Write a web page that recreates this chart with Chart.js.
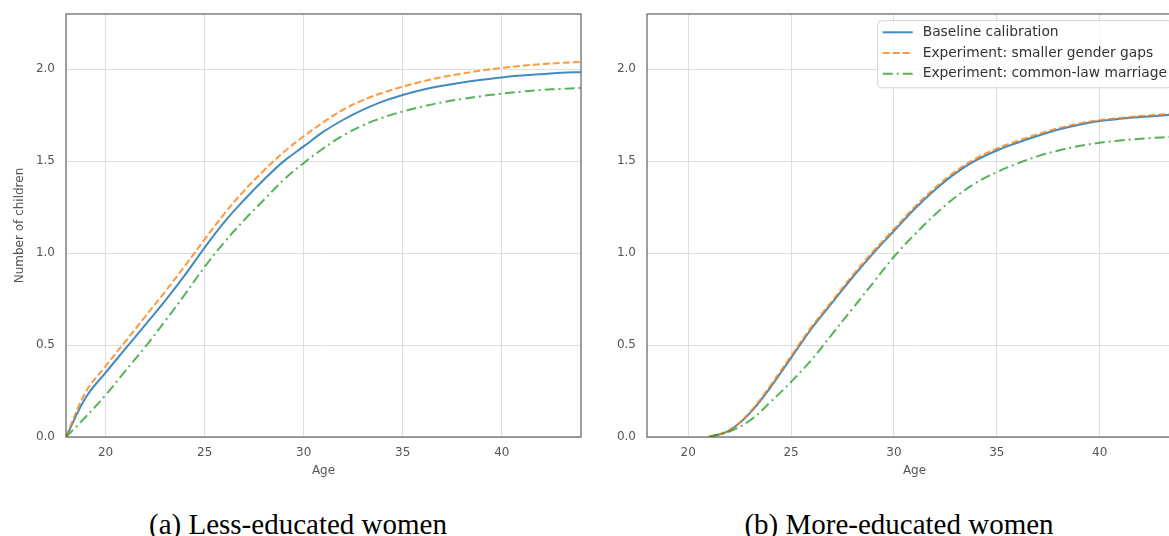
<!DOCTYPE html>
<html>
<head>
<meta charset="utf-8">
<script src="https://cdn.jsdelivr.net/npm/chart.js@4.4.0/dist/chart.umd.min.js"></script>
<style>
  html, body { margin: 0; padding: 0; background: #fff; width: 1169px; height: 536px; overflow: hidden; position: relative; }
  .box { position: absolute; top: 0; height: 490px; }
  #boxA { left: 0; width: 600px; }
  #boxB { left: 590px; width: 610px; }
  .cap { position: absolute; top: 510px; width: 500px; text-align: center; white-space: nowrap;
         font-family: "Liberation Serif", serif; font-size: 29px; line-height: 29px; color: #000; }
</style>
</head>
<body>
<div class="box" id="boxA"><canvas id="chartA"></canvas></div>
<div class="box" id="boxB"><canvas id="chartB"></canvas></div>
<div class="cap" style="left:48px">(a) Less-educated women</div>
<div class="cap" style="left:649px">(b) More-educated women</div>
<script>
// ages 18..44
const ages = [18, 19, 20, 21, 22, 23, 24, 25, 26, 27, 28, 29, 30, 31, 32, 33, 34, 35, 36, 37, 38, 39, 40, 41, 42, 43, 44];

// (a) less-educated women
const lessBaseline = [0, 0.215, 0.35, 0.48, 0.61, 0.74, 0.88, 1.03, 1.17, 1.29, 1.40, 1.50, 1.58, 1.66, 1.725, 1.78, 1.825, 1.86, 1.888, 1.91, 1.928, 1.943, 1.955, 1.965, 1.973, 1.98, 1.985];
const lessGaps = [0, 0.245, 0.385, 0.52, 0.655, 0.79, 0.93, 1.075, 1.215, 1.34, 1.45, 1.55, 1.635, 1.712, 1.78, 1.832, 1.872, 1.905, 1.933, 1.957, 1.976, 1.993, 2.007, 2.018, 2.027, 2.034, 2.04];
const lessCommon = [0, 0.11, 0.228, 0.36, 0.49, 0.63, 0.775, 0.925, 1.06, 1.18, 1.29, 1.40, 1.49, 1.57, 1.64, 1.695, 1.737, 1.77, 1.797, 1.82, 1.838, 1.854, 1.867, 1.878, 1.887, 1.893, 1.898];

// (b) more-educated women
const moreBaseline = [null, null, null, 0, 0.035, 0.13, 0.27, 0.43, 0.59, 0.73, 0.87, 1.0, 1.12, 1.24, 1.345, 1.435, 1.505, 1.558, 1.60, 1.638, 1.672, 1.698, 1.718, 1.73, 1.74, 1.748, 1.755];
const moreGaps = [null, null, null, 0, 0.038, 0.135, 0.28, 0.44, 0.60, 0.74, 0.88, 1.01, 1.13, 1.25, 1.355, 1.445, 1.515, 1.568, 1.61, 1.647, 1.679, 1.704, 1.723, 1.735, 1.745, 1.753, 1.76];
const moreCommon = [null, null, null, 0, 0.03, 0.09, 0.19, 0.30, 0.42, 0.56, 0.70, 0.84, 0.98, 1.10, 1.21, 1.305, 1.383, 1.44, 1.487, 1.527, 1.558, 1.582, 1.60, 1.612, 1.622, 1.629, 1.635];

const seriesNames = ['Baseline calibration', 'Experiment: smaller gender gaps', 'Experiment: common-law marriage'];
const xTicks = [20, 25, 30, 35, 40];
const yTicks = [0, 0.5, 1, 1.5, 2];

const lineColors = ['rgba(31,119,180,0.85)', 'rgba(255,127,14,0.8)', 'rgba(44,160,44,0.8)'];
const lineDashes = [[], [7, 3], [10, 4, 2, 4]];
const tickFont = { family: 'DejaVu Sans', size: 12 };

// plot frame (all four spines)
const frame = {
  id: 'frame',
  afterDraw(chart) {
    const { ctx, chartArea: a } = chart;
    ctx.save();
    ctx.strokeStyle = '#666';
    ctx.lineWidth = 1.25;
    ctx.strokeRect(a.left, a.top, a.right - a.left, a.bottom - a.top);
    ctx.restore();
  }
};

// legend drawn inside the plot, upper right
const innerLegend = {
  id: 'innerLegend',
  afterDraw(chart) {
    const { ctx, chartArea: a } = chart;
    const sets = chart.data.datasets;
    ctx.save();
    ctx.font = '13.8px "DejaVu Sans"';
    const textW = Math.max(...sets.map(d => ctx.measureText(d.label).width));
    const rowH = 20.7, pad = 5, sample = 30, gap = 10;
    const w = pad + sample + gap + textW + pad;
    const h = rowH * sets.length + 5;
    const left = a.right - 10 - w, top = a.top + 6.7;
    ctx.beginPath();
    ctx.roundRect(left, top, w, h, 4);
    ctx.fillStyle = 'rgba(255,255,255,0.8)';
    ctx.fill();
    ctx.strokeStyle = '#d4d4d4';
    ctx.lineWidth = 1;
    ctx.stroke();
    sets.forEach((d, i) => {
      const y = top + 11.6 + i * rowH;
      ctx.beginPath();
      ctx.setLineDash(d.borderDash);
      ctx.strokeStyle = d.borderColor;
      ctx.lineWidth = d.borderWidth;
      ctx.moveTo(left + pad, y);
      ctx.lineTo(left + pad + sample, y);
      ctx.stroke();
      ctx.setLineDash([]);
      ctx.fillStyle = '#333';
      ctx.textBaseline = 'middle';
      ctx.fillText(d.label, left + pad + sample + gap, y);
    });
    ctx.restore();
  }
};

function makeChart(id, series, yTitle, yWidth, padRight, plugins) {
  return new Chart(document.getElementById(id), {
    type: 'line',
    data: {
      datasets: series.map((s, i) => ({
        label: seriesNames[i],
        data: ages.map((a, j) => ({ x: a, y: s[j] })),
        borderColor: lineColors[i],
        borderWidth: 2,
        borderDash: lineDashes[i],
        pointRadius: 0,
        tension: 0.4,
        fill: false,
        order: 3 - i
      }))
    },
    options: {
      responsive: true,
      maintainAspectRatio: false,
      animation: false,
      layout: { padding: { top: 14, right: padRight, left: 0, bottom: 0 } },
      plugins: { legend: { display: false }, tooltip: { enabled: false } },
      scales: {
        x: {
          type: 'linear', min: 18, max: 44,
          afterBuildTicks: s => { s.ticks = xTicks.map(v => ({ value: v })); },
          afterFit: s => { s.height = 53; s.paddingLeft = 0; s.paddingRight = 0; },
          grid: { color: '#dedede', lineWidth: 1, drawTicks: false },
          border: { display: false },
          ticks: { padding: 9, color: '#555', font: tickFont },
          title: { display: true, text: 'Age', color: '#555', font: tickFont, padding: { top: 0, bottom: 12 } }
        },
        y: {
          type: 'linear', min: 0, max: 2.3,
          afterBuildTicks: s => { s.ticks = yTicks.map(v => ({ value: v })); },
          afterFit: s => { s.width = yWidth; s.paddingTop = 0; s.paddingBottom = 0; },
          grid: { color: '#dedede', lineWidth: 1, drawTicks: false },
          border: { display: false },
          ticks: { padding: 11, color: '#555', font: tickFont, callback: v => Number(v).toFixed(1) },
          title: { display: !!yTitle, text: yTitle || '', color: '#555', font: tickFont, padding: { top: 13, bottom: 0 } }
        }
      }
    },
    plugins: plugins
  });
}

makeChart('chartA', [lessBaseline, lessGaps, lessCommon], 'Number of children', 66, 19, [frame]);
makeChart('chartB', [moreBaseline, moreGaps, moreCommon], null, 57, 18, [frame, innerLegend]);
</script>
</body>
</html>
